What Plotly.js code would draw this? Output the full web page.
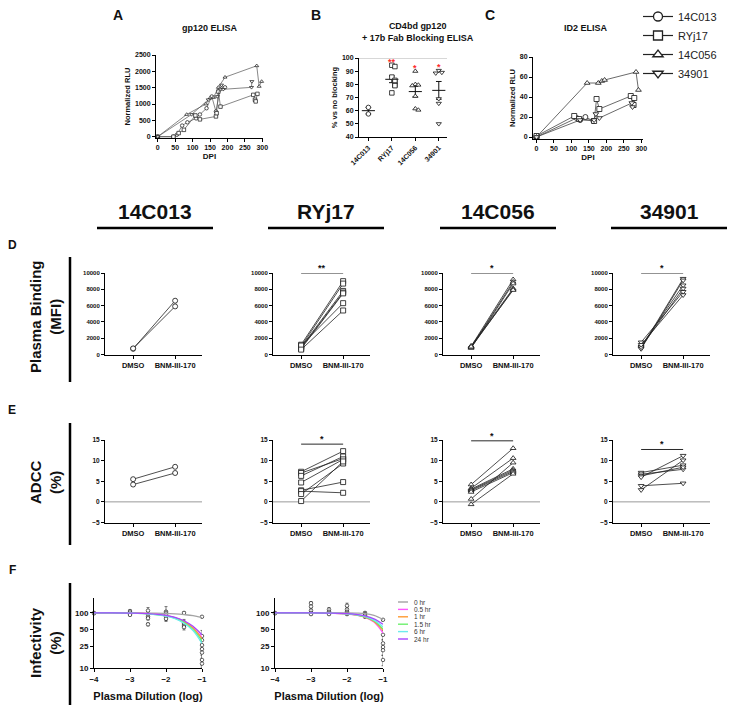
<!DOCTYPE html>
<html><head><meta charset="utf-8">
<script src="https://cdn.plot.ly/plotly-3.0.1.min.js"></script>
<style>html,body{margin:0;padding:0;background:#fff}#chart{width:735px;height:706px}</style>
</head><body><div id="chart"></div>
<script>
// ================= DATA =================
const donors = ['14C013', 'RYj17', '14C056', '34901'];
const conditions = ['DMSO', 'BNM-III-170'];
const timepoints = ['0 hr', '0.5 hr', '1 hr', '1.5 hr', '6 hr', '24 hr'];

// Panel A: gp120 ELISA (DPI vs normalized RLU)
const gpDPI_14C013 = [0, 45, 55, 70, 85, 110, 121, 140, 155, 167, 179, 193];
const gpRLU_14C013 = [0, 0, 60, 340, 440, 560, 680, 870, 1230, 770, 1450, 1510];
const gpDPI_RYj17 = [0, 45, 60, 75, 108, 121, 167, 169, 174, 180, 274, 279, 281, 286];
const gpRLU_RYj17 = [0, 0, 110, 210, 650, 530, 620, 720, 1380, 920, 1280, 1130, 1080, 1310];
const gpDPI_14C056 = [0, 83, 138, 150, 160, 174, 193, 284, 291, 298];
const gpRLU_14C056 = [0, 680, 1000, 1180, 1200, 1510, 1820, 2170, 1540, 1690];
const gpDPI_34901 = [0, 97, 145, 171, 183, 188, 269, 270];
const gpRLU_34901 = [0, 680, 1130, 1230, 1580, 1450, 1510, 1690];

// Panel B: CD4bd gp120 + 17b Fab blocking (% vs no blocking)
const block_14C013 = [62.5, 57.5];
const block_RYj17 = [94.5, 93.5, 85.5, 83, 82, 79.5, 79, 73.5];
const block_14C056 = [90, 80, 79.5, 79, 71, 61.5, 60.5];
const block_34901 = [90.5, 89, 88.5, 69, 65.5, 50];
const blockSig = ['', '**', '*', '*'];

// Panel C: ID2 ELISA
const idDPI_14C013 = [0, 115, 125, 140, 163];
const idRLU_14C013 = [0, 19, 17, 20, 16];
const idDPI_RYj17 = [0, 108, 122, 165, 172, 180, 270, 278, 280];
const idRLU_RYj17 = [1, 21, 18, 16, 38, 28, 41, 32, 39];
const idDPI_14C056 = [0, 145, 177, 187, 195, 285, 292];
const idRLU_14C056 = [0, 54, 54, 56, 57, 65, 47];
const idDPI_34901 = [0, 125, 165, 170, 180, 273, 275];
const idRLU_34901 = [0, 17, 17, 23, 19, 34, 30];

// Panel D: plasma binding (MFI), paired DMSO / BNM-III-170
const bindDMSO_14C013 = [700, 750];
const bindBNM_14C013 = [6600, 5900];
const bindDMSO_RYj17 = [1200, 1000, 900, 800, 700, 1100, 600];
const bindBNM_RYj17 = [9000, 8700, 7800, 7600, 7500, 6300, 5400];
const bindDMSO_14C056 = [1000, 900, 800, 1050, 850, 950];
const bindBNM_14C056 = [9200, 8900, 8700, 8100, 8000, 7900];
const bindDMSO_34901 = [800, 700, 1000, 900, 1500, 1200];
const bindBNM_34901 = [9300, 9100, 8500, 8100, 7700, 7300];
const bindSig = ['', '**', '*', '*'];
const bindSigLevel = [null, 10000, 10000, 10000];

// Panel E: ADCC (%)
const adccDMSO_14C013 = [5.5, 4.2];
const adccBNM_14C013 = [8.5, 7.0];
const adccDMSO_RYj17 = [7.3, 7.0, 6.3, 4.7, 2.8, 2.6, 1.9, 0.2];
const adccBNM_RYj17 = [12.3, 10.5, 11.0, 10.3, 4.8, 2.2, 9.3, 9.8];
const adccDMSO_14C056 = [4.2, 3.3, 3.1, 2.9, 2.7, 2.4, 0.7, -0.6];
const adccBNM_14C056 = [13.0, 10.6, 8.0, 7.7, 7.4, 7.1, 9.5, 6.8];
const adccDMSO_34901 = [7.1, 6.7, 6.3, 6.0, 3.9, 2.9];
const adccBNM_34901 = [8.9, 7.9, 8.4, 11.2, 4.5, 10.1];
const adccSig = ['', '*', '*', '*'];
const adccSigLevel = [null, 14.0, 14.8, 12.7];

// Panel F: infectivity (%) vs plasma dilution (log)
const dilutionLog = [-4, -3.5, -3, -2.5, -2, -1.75, -1.5, -1.25, -1];
const fit14C013_0h = [100, 100, 100, 99, 98, 96, 93, 89, 82];
const fit14C013_05h = [100, 100, 99, 97, 89, 82, 70, 54, 36];
const fit14C013_1h = [100, 100, 99, 97, 89, 81, 69, 53, 34];
const fit14C013_15h = [100, 100, 99, 96, 88, 80, 67, 50, 31];
const fit14C013_6h = [100, 100, 99, 96, 87, 79, 65, 48, 28];
const fit14C013_24h = [100, 100, 99, 97, 90, 83, 72, 57, 40];
const fitRYj17_0h = [100, 100, 100, 100, 100, 99, 97, 90, 76];
const fitRYj17_05h = [100, 100, 100, 99, 95, 91, 83, 68, 43];
const fitRYj17_1h = [100, 100, 100, 99, 96, 92, 84, 70, 48];
const fitRYj17_15h = [100, 100, 100, 99, 96, 92, 85, 72, 51];
const fitRYj17_6h = [100, 100, 100, 99, 96, 93, 86, 74, 56];
const fitRYj17_24h = [100, 100, 100, 99, 97, 94, 88, 78, 62];

const infX_14C013 = [-4, -4, -3, -3, -3, -3, -2.5, -2.5, -2.5, -2.5, -2.5, -2, -2, -2, -2, -2, -1.5, -1.5, -1.5, -1.5, -1.5, -1, -1, -1, -1, -1, -1, -1, -1];
const infY_14C013 = [100, 98, 108, 102, 96, 92, 110, 95, 85, 80, 62, 105, 100, 93, 85, 78, 100, 68, 63, 58, 55, 85, 38, 32, 26, 22, 19, 14, 12];
const infErr_14C013 = [0, 0, 6, 4, 5, 4, 15, 10, 8, 6, 4, 25, 10, 8, 12, 8, 5, 8, 6, 5, 6, 3, 10, 6, 5, 4, 4, 3, 2];
const infX_RYj17 = [-4, -4, -3, -3, -3, -3, -3, -2.5, -2.5, -2.5, -2.5, -2, -2, -2, -2, -2, -1.5, -1.5, -1.5, -1.5, -1, -1, -1, -1, -1, -1];
const infY_RYj17 = [100, 98, 150, 130, 110, 100, 95, 115, 105, 100, 95, 135, 115, 105, 100, 95, 100, 95, 90, 85, 75, 40, 28, 24, 21, 14];
const infErr_RYj17 = [0, 0, 10, 8, 6, 5, 4, 10, 6, 5, 4, 15, 8, 6, 5, 4, 5, 4, 4, 4, 4, 8, 5, 4, 4, 3];

// ================= STYLE / LAYOUT =================
const W = 735, H = 706;
const FONT = 'Liberation Sans, Arial, sans-serif';
const symbols = ['circle', 'square', 'triangle-up', 'triangle-down'];
const fColors = ['#a3a3a3', '#ff55ff', '#ff9a33', '#6cf06c', '#6cecec', '#a646ff'];
const px2x = (a, b) => [a / W, b / W];
const px2y = (top, bottom) => [1 - bottom / H, 1 - top / H];
const pxX = a => a / W;
const pxY = b => 1 - b / H;

const layout = {
  width: W, height: H, margin: {l: 0, r: 0, t: 0, b: 0},
  paper_bgcolor: '#fff', plot_bgcolor: 'rgba(0,0,0,0)',
  font: {family: FONT, color: '#111'},
  showlegend: true,
  legend: {x: pxX(638), y: pxY(2), xanchor: 'left', yanchor: 'top', bgcolor: 'rgba(0,0,0,0)',
    font: {family: FONT, size: 11, color: '#222'}, itemwidth: 30, tracegroupgap: 0},
  annotations: [], shapes: []
};
const traces = [];

function axisBase(extra, fs) {
  return Object.assign({
    showline: true, linecolor: '#000', linewidth: 1,
    ticks: 'outside', ticklen: 3, tickwidth: 1, tickcolor: '#000',
    showgrid: false, zeroline: false, fixedrange: true,
    tickfont: {family: FONT, size: fs || 7, color: '#111', weight: 'bold'}
  }, extra);
}
function setAxes(n, xo, yo, xfs, yfs) {
  const s = n === 1 ? '' : String(n);
  layout['xaxis' + s] = axisBase(Object.assign({anchor: 'y' + s}, xo), xfs);
  layout['yaxis' + s] = axisBase(Object.assign({anchor: 'x' + s}, yo), yfs);
  return {x: 'x' + s, y: 'y' + s};
}
function ann(text, x, y, size, opts) {
  layout.annotations.push(Object.assign({
    text: text, xref: 'paper', yref: 'paper', x: pxX(x), y: pxY(y), showarrow: false,
    xanchor: 'center', yanchor: 'middle', font: {family: FONT, size: size, color: '#111', weight: 'bold'}
  }, opts || {}));
}
function paperLine(x0, y0, x1, y1, w, c) {
  layout.shapes.push({type: 'line', xref: 'paper', yref: 'paper', x0: pxX(x0), x1: pxX(x1), y0: pxY(y0), y1: pxY(y1),
    line: {color: c || '#000', width: w}});
}
const titleFont = (s) => ({family: FONT, size: s, color: '#111', weight: 'bold'});

// ---- Panel A ----
const axA = setAxes(1,
  {domain: px2x(156, 263), range: [-5, 302], tickvals: [0, 50, 100, 150, 200, 250, 300],
   title: {text: 'DPI', font: titleFont(8), standoff: 2}},
  {domain: px2y(55, 138), range: [-40, 2500], tickvals: [0, 500, 1000, 1500, 2000, 2500], tickformat: 'd',
   title: {text: 'Normalized RLU', font: titleFont(7.5), standoff: 3}});
const gpX = [gpDPI_14C013, gpDPI_RYj17, gpDPI_14C056, gpDPI_34901];
const gpY = [gpRLU_14C013, gpRLU_RYj17, gpRLU_14C056, gpRLU_34901];
donors.forEach((d, i) => traces.push({
  type: 'scatter', mode: 'lines+markers', x: gpX[i], y: gpY[i], xaxis: axA.x, yaxis: axA.y, showlegend: false,
  line: {color: '#555', width: 0.7}, cliponaxis: false,
  marker: {symbol: symbols[i], size: 3.5, color: '#fff', line: {color: '#111', width: 0.7}}
}));

// ---- Panel B ----
const axB = setAxes(2,
  {domain: px2x(359, 447), range: [-0.4, 3.35], tickvals: donors.map((_, i) => i), ticktext: donors, tickangle: -45},
  {domain: px2y(58, 137), range: [40, 100], tickvals: [40, 50, 60, 70, 80, 90, 100],
   title: {text: '% vs no blocking', font: titleFont(7.5), standoff: 3}});
layout.shapes.push({type: 'line', xref: axB.x + ' domain', yref: axB.y, x0: 0, x1: 1, y0: 100, y1: 100,
  line: {color: '#b0b0b0', width: 1.2}});
const blockVals = [block_14C013, block_RYj17, block_14C056, block_34901];
blockVals.forEach((vals, i) => {
  // spread overlapping points horizontally (Prism style)
  const xs = [];
  vals.forEach((v, j) => {
    let k = 0;
    for (let m = 0; m < j; m++) if (Math.abs(vals[m] - v) < 2.6) k++;
    const off = k === 0 ? 0 : (k % 2 ? 1 : -1) * Math.ceil(k / 2) * 0.13;
    xs.push(i + off);
  });
  const n = vals.length;
  const mean = vals.reduce((a, b) => a + b, 0) / n;
  const sd = Math.sqrt(vals.reduce((a, b) => a + (b - mean) * (b - mean), 0) / (n - 1));
  const sem = sd / Math.sqrt(n);
  traces.push({type: 'scatter', mode: 'lines', xaxis: axB.x, yaxis: axB.y, showlegend: false,
    x: [i - 0.28, i + 0.28, null, i, i, null, i - 0.12, i + 0.12, null, i - 0.12, i + 0.12],
    y: [mean, mean, null, mean - sem, mean + sem, null, mean + sem, mean + sem, null, mean - sem, mean - sem],
    line: {color: '#111', width: 1}});
  traces.push({type: 'scatter', mode: 'markers', x: xs, y: vals, xaxis: axB.x, yaxis: axB.y, showlegend: false,
    cliponaxis: false,
    marker: {symbol: symbols[i], size: 4.5, color: '#fff', line: {color: '#111', width: 0.8}}});
  if (blockSig[i]) layout.annotations.push({text: blockSig[i], xref: axB.x, yref: axB.y, x: i, y: Math.max(...vals) + 2.5,
    showarrow: false, yanchor: 'middle', font: {family: FONT, size: 9, color: '#ff2a2a', weight: 'bold'}});
});

// ---- Panel C ----
const axC = setAxes(3,
  {domain: px2x(533, 643), range: [-10, 305], tickvals: [0, 50, 100, 150, 200, 250, 300],
   title: {text: 'DPI', font: titleFont(8), standoff: 2}},
  {domain: px2y(57, 139), range: [-2, 80], tickvals: [0, 20, 40, 60, 80],
   title: {text: 'Normalized RLU', font: titleFont(7.5), standoff: 3}});
const idX = [idDPI_14C013, idDPI_RYj17, idDPI_14C056, idDPI_34901];
const idY = [idRLU_14C013, idRLU_RYj17, idRLU_14C056, idRLU_34901];
donors.forEach((d, i) => traces.push({
  type: 'scatter', mode: 'lines+markers', x: idX[i], y: idY[i], xaxis: axC.x, yaxis: axC.y, showlegend: false,
  line: {color: '#444', width: 0.8}, cliponaxis: false,
  marker: {symbol: symbols[i], size: 5, color: '#fff', line: {color: '#111', width: 0.8}}
}));
// legend entries (symbol key)
donors.forEach((d, i) => traces.push({
  type: 'scatter', mode: 'lines+markers', x: [null], y: [null], xaxis: axC.x, yaxis: axC.y, name: d, showlegend: true,
  line: {color: '#222', width: 1.2},
  marker: {symbol: symbols[i], size: 9, color: '#fff', line: {color: '#222', width: 1.3}}
}));

// ---- Panels D & E ----
const colX = [[105, 202], [273, 370], [443, 540], [613, 710]];
const condX = conditions.map((c, i) => i);
const bindD = [bindDMSO_14C013, bindDMSO_RYj17, bindDMSO_14C056, bindDMSO_34901];
const bindB = [bindBNM_14C013, bindBNM_RYj17, bindBNM_14C056, bindBNM_34901];
const adccD = [adccDMSO_14C013, adccDMSO_RYj17, adccDMSO_14C056, adccDMSO_34901];
const adccB = [adccBNM_14C013, adccBNM_RYj17, adccBNM_14C056, adccBNM_34901];

function pairedPanel(n, col, dmso, bnm, sym, yo, yfs, sig, sigLevel) {
  const ax = setAxes(n,
    {domain: px2x(col[0], col[1]), range: [-0.67, 1.64], tickvals: condX, ticktext: conditions},
    yo, 7.5, yfs);
  dmso.forEach((v, j) => traces.push({
    type: 'scatter', mode: 'lines+markers', x: condX, y: [v, bnm[j]], xaxis: ax.x, yaxis: ax.y, showlegend: false,
    cliponaxis: false, line: {color: '#222', width: 0.8},
    marker: {symbol: sym, size: 5, color: '#fff', line: {color: '#111', width: 0.8}}
  }));
  if (sig) {
    layout.shapes.push({type: 'line', xref: ax.x, yref: ax.y, x0: condX[0], x1: condX[1], y0: sigLevel, y1: sigLevel,
      line: {color: '#111', width: 0.9}});
    layout.annotations.push({text: sig, xref: ax.x, yref: ax.y, x: (condX[0] + condX[1]) / 2, y: sigLevel,
      yanchor: 'bottom', showarrow: false, yshift: -2, font: {family: FONT, size: 9, color: '#111', weight: 'bold'}});
  }
  return ax;
}
donors.forEach((d, i) => {
  pairedPanel(4 + i, colX[i], bindD[i], bindB[i], symbols[i],
    {domain: px2y(273, 354.5), range: [0, 10000], tickvals: [0, 2000, 4000, 6000, 8000, 10000], tickformat: 'd'}, 6,
    bindSig[i], bindSigLevel[i]);
  const ax = pairedPanel(8 + i, colX[i], adccD[i], adccB[i], symbols[i],
    {domain: px2y(440, 522.5), range: [-5, 15], tickvals: [-5, 0, 5, 10, 15]}, 6.5,
    adccSig[i], adccSigLevel[i]);
  layout.shapes.push({type: 'line', xref: ax.x + ' domain', yref: ax.y, x0: 0, x1: 1, y0: 0, y1: 0,
    line: {color: '#9a9a9a', width: 1}, layer: 'below'});
});

// ---- Panel F ----
const fitSets = [
  [fit14C013_0h, fit14C013_05h, fit14C013_1h, fit14C013_15h, fit14C013_6h, fit14C013_24h],
  [fitRYj17_0h, fitRYj17_05h, fitRYj17_1h, fitRYj17_15h, fitRYj17_6h, fitRYj17_24h]
];
const infSets = [[infX_14C013, infY_14C013, infErr_14C013], [infX_RYj17, infY_RYj17, infErr_RYj17]];
const fCols = [[94, 202], [275, 383]];
fitSets.forEach((fits, p) => {
  const ax = setAxes(12 + p,
    {domain: px2x(fCols[p][0], fCols[p][1]), range: [-4, -1], tickvals: [-4, -3, -2, -1],
     title: {text: 'Plasma Dilution (log)', font: titleFont(11), standoff: 9}},
    {domain: px2y(598, 668), type: 'log', range: [1, 2.27], tickvals: [10, 25, 50, 100], ticktext: ['10', '25', '50', '100']},
    8, 8);
  const [ix, iy, ie] = infSets[p];
  traces.push({type: 'scatter', mode: 'markers', x: ix, y: iy, xaxis: ax.x, yaxis: ax.y, showlegend: false, cliponaxis: false,
    error_y: {type: 'data', array: ie, color: '#444', thickness: 0.7, width: 1.5},
    marker: {symbol: 'circle', size: 3.5, color: '#fff', line: {color: '#222', width: 0.7}}});
  fits.forEach((f, t) => traces.push({type: 'scatter', mode: 'lines', x: dilutionLog, y: f, xaxis: ax.x, yaxis: ax.y,
    showlegend: false, line: {color: fColors[t], width: 1.3, shape: 'spline'}}));
});
// F legend (colour key)
timepoints.forEach((t, k) => {
  const yy = 602 + k * 7.4;
  paperLine(398, yy, 408, yy, 1.4, fColors[k]);
  ann(t, 412, yy, 6.5, {xanchor: 'left', font: {family: FONT, size: 6.5, color: '#333'}});
});

// ---- Panel letters, titles, headers ----
ann('A', 118, 15, 14); ann('B', 316, 15, 14); ann('C', 490, 15, 14);
ann('gp120 ELISA', 210, 28, 9);
ann('CD4bd gp120<br>+ 17b Fab Blocking ELISA', 418, 32, 9);
ann('ID2 ELISA', 586, 28, 9);
const headerX = [[97, 213], [268, 384], [440, 556], [611, 727]];
donors.forEach((d, i) => {
  ann(d, (headerX[i][0] + headerX[i][1]) / 2, 212, 21);
  paperLine(headerX[i][0], 228, headerX[i][1], 228, 2.5);
});
ann('D', 12, 245, 12); ann('E', 12, 410, 12); ann('F', 12, 570, 12);
paperLine(70, 257, 70, 382, 2.5);
paperLine(70, 423, 70, 545, 2.5);
paperLine(70, 583, 70, 705, 2.5);
ann('Plasma Binding<br>(MFI)', 45, 317, 15, {textangle: -90});
ann('ADCC<br>(%)', 45, 483, 15, {textangle: -90});
ann('Infectivity<br>(%)', 45, 643, 15, {textangle: -90});

Plotly.newPlot('chart', traces, layout, {staticPlot: true, displayModeBar: false});
</script></body></html>
